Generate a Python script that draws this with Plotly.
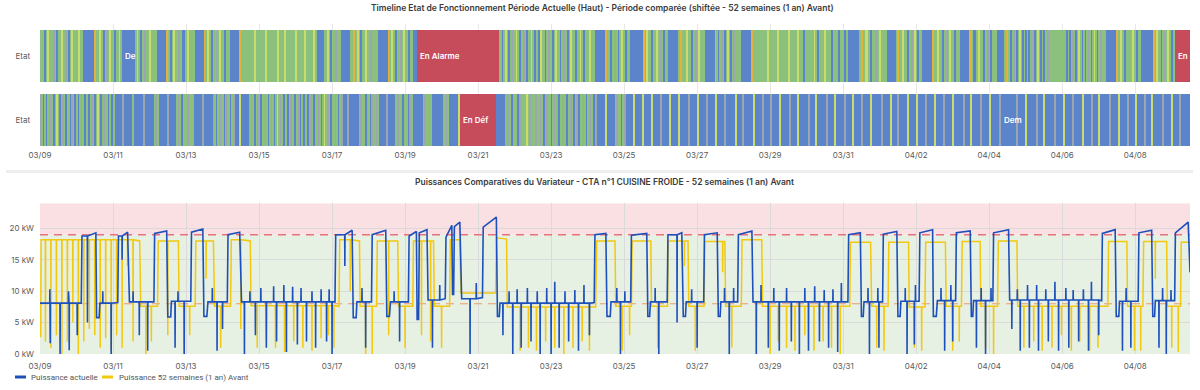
import plotly.graph_objects as go
from datetime import datetime, timedelta

# ---------------- data ----------------
START = datetime(2025, 3, 9)
SPAN_DAYS = 31.5

TITLE_TOP = "Timeline Etat de Fonctionnement Période Actuelle (Haut) - Période comparée (shiftée - 52 semaines (1 an) Avant)"
TITLE_BOTTOM = "Puissances Comparatives du Variateur - CTA n°1 CUISINE FROIDE - 52 semaines (1 an) Avant"
ROW_LABELS = ["Etat", "Etat"]
SERIES_NAMES = ["Puissance actuelle", "Puissance 52 semaines (1 an) Avant"]
Y_TICKS = [0, 5, 10, 15, 20]
THRESHOLD_LOW = 8
THRESHOLD_HIGH = 19
Y_MAX = 24

STATE_COLORS = {
    "D": "#5B84CB",  # Dem
    "A": "#8BC17D",
    "O": "#E4B23C",
    "Y": "#C9DC6E",
    "G": "#9CA6B0",
    "R": "#C64B5B",
}

# state per hour, one string per day (03/09 ... 04/09 12:00)
TOP_STATES_HOURLY = [
    "AAADAYAAAGADAAYAAGADAYAA",  # 03/09
    "AYAADDDDDDDDOAAYAADAGAYA",  # 03/10
    "ADAAYADDDDDDDDDAYADAAGAA",  # 03/11
    "YAAAADDDDDDOAADAYAAGAADA",  # 03/12
    "AYAAAADDDDDDOAYAADAAGAYA",  # 03/13
    "ADAAADDDDDDOAAAAAAAAAYAA",  # 03/14
    "AAAAYAAAAAAAYAAAAYAAAAAA",  # 03/15
    "YAAAAAYAAAAAYADDDDDAAYAD",  # 03/16
    "AAGAAADDDDDDAAOAAYADAAYA",  # 03/17
    "AGAAAADDDDDDDOAYAADAAGAY",  # 03/18
    "AADAADDDRRRRRRRRRRRRRRRR",  # 03/19
    "RRRRRRRRRRRRRRRRRRRRRRRR",  # 03/20
    "RRRRRRRRRRRRRRAADAYADAGA",  # 03/21
    "AYADAAGADAAYADAADYAADAGA",  # 03/22
    "ADAYAADAGAADAYAADAAYADAA",  # 03/23
    "AYAAADDDDDDDOAADAAGADAYA",  # 03/24
    "ADAADDDDDDDDDOAYAADAAYAA",  # 03/25
    "GADAADDDDDDDAOAAAYAADAAG",  # 03/26
    "AYAAADDDDDDDOADAGADAYADA",  # 03/27
    "GAAAADDDDDDDOAAAAAAAAAYA",  # 03/28
    "AAAAAYAAAAAAYAAAAAYAAADA",  # 03/29
    "AAAAAYADAAAAYAAADAAAADAA",  # 03/30
    "ADADDDDDDDDAOAAYAADAAGAA",  # 03/31
    "YAAAADDDDDDAOAAYAADAAGAY",  # 04/01
    "ADAADDDDDDDOAAYAADAAGAYA",  # 04/02
    "ADAAADDDDDDOOADAAYAADAAG",  # 04/03
    "ADAAADDDDDAOOADAGADAYADA",  # 04/04
    "DADAGADAYADADAGAAAAAAAAA",  # 04/05
    "AAADADAGADAYADADAGADAYAD",  # 04/06
    "AGAAADDDDDDDOAYAADAAGAYA",  # 04/07
    "ADAADDDDDDDDOAYAADAGAYAA",  # 04/08
    "DARRRRRRRRRR",              # 04/09
]

BOTTOM_STATES_HOURLY = [
    "GADADAGAADAYADAGADAADGAD",  # 03/09
    "ADAGADAADAGADAYADAGAADAD",  # 03/10
    "ADDDDDGDDDDDDADDDDDDGDDD",  # 03/11
    "DDDAGADDDDDDGDDDDDAGADAA",  # 03/12
    "AGAAADDDDDDGDDDDDDGADAGA",  # 03/13
    "ADGAADAGDDDYDDDDDDAGADAG",  # 03/14
    "ADAAGADAGADAYAGADAADAGAD",  # 03/15
    "AAGDADAADAGADAAGADAYAGAD",  # 03/16
    "AAGADAGDDDGDDDDDDDAGAADA",  # 03/17
    "ADGAAGADDDDDGDDDDDAGAADA",  # 03/18
    "AADGADDDDDDDAGAAGADDDDDD",  # 03/19
    "DAAGADDDDDDYRRRRRRRRRRRR",  # 03/20
    "RRRRRRRRRRRRDDDDDDAGAADA",  # 03/21
    "AADGAAAAYAGAAAGAAGADAGAA",  # 03/22
    "DAGAGDAAGADAAGADAGDAAGAD",  # 03/23
    "AGAADGDDDDDDYDDDDDAGAADA",  # 03/24
    "GDDDDDYDDDDDYDDDDDYDDDDD",  # 03/25
    "GDDDDDYDDDDDYDDDDDGDDDDD",  # 03/26
    "YDDDDDGDDDDDYDDDDDGDDDDD",  # 03/27
    "DYDDDDGDDDDDDYDDDDDGDDDD",  # 03/28
    "GDDDDDYDDDDDDGDDDDYDDDDD",  # 03/29
    "DGDDDDYDDDDDDGDDDDYDDDDD",  # 03/30
    "DGDDDDYDDDDDGDDDDDYDDDDD",  # 03/31
    "DGDDDDDYDDDDGDDDDDYDDDDD",  # 04/01
    "YDDDDDGDDDDDYDDDDDGDDDDD",  # 04/02
    "YDDDDDDGDDDDYDDDDDGDDDDD",  # 04/03
    "YDDDDDDGDDDDDDDDDDGDDDDD",  # 04/04
    "YDDDDDDGDDDDYDDDDDDGDDDD",  # 04/05
    "DYDDDDDGDDDDDYDDDDDGDDDD",  # 04/06
    "YDDDDDDGDDDDDYDDDDDGDDDD",  # 04/07
    "YDDDDDGDDDDYDDDDDDGDDDDD",  # 04/08
    "YDDDDGDDDDDD",              # 04/09
]

# (row, time inside the state, text shown in the box)
STATE_LABELS = [
    (1, "2025-03-11 10:00", "De"),
    (1, "2025-03-20 12:00", "En Alarme"),
    (1, "2025-04-09 06:00", "En"),
    (0, "2025-03-21 00:00", "En Déf"),
    (0, "2025-04-04 12:00", "Dem"),
]

# power series: segments (day_start, day_end, kW_start, kW_end), days since 03/09 00:00
CURRENT_SEGMENTS = [
    (0.00, 1.13, 8.1, 8.1), (1.15, 1.53, 18.8, 19.3), (1.55, 1.62, 5.8, 5.8),
    (1.64, 2.13, 8.1, 8.2), (2.15, 2.40, 18.8, 19.4), (2.45, 3.12, 8.3, 8.3),
    (3.14, 3.47, 19.2, 19.6), (3.50, 3.58, 5.9, 5.9), (3.60, 4.13, 8.4, 8.4),
    (4.15, 4.46, 19.4, 19.9), (4.49, 4.57, 6.0, 6.0), (4.60, 5.13, 8.3, 8.3),
    (5.15, 5.47, 19.0, 19.4), (5.52, 8.08, 8.3, 8.3), (8.10, 8.55, 19.0, 19.7),
    (8.58, 8.66, 5.8, 5.8), (8.68, 9.08, 8.3, 8.3), (9.10, 9.47, 19.0, 19.7),
    (9.50, 9.57, 6.0, 6.0), (9.60, 10.09, 8.3, 8.3), (10.11, 10.31, 18.8, 19.5),
    (10.33, 10.37, 5.5, 5.5), (10.39, 10.60, 19.3, 19.8), (10.63, 11.10, 8.6, 8.8),
    (11.12, 11.28, 18.6, 20.5), (11.30, 11.33, 9.5, 9.5), (11.35, 11.50, 20.3, 21.0),
    (11.55, 12.12, 8.8, 9.0), (12.14, 12.50, 20.2, 21.8), (12.53, 12.58, 6.0, 6.0),
    (12.60, 15.18, 8.1, 8.2), (15.20, 15.50, 19.0, 19.2), (15.53, 15.62, 6.0, 6.0),
    (15.64, 16.18, 8.3, 8.3), (16.20, 16.62, 18.9, 19.2), (16.65, 16.70, 6.0, 6.0),
    (16.72, 17.18, 8.3, 8.3), (17.20, 17.58, 19.0, 19.3), (17.62, 17.68, 6.0, 6.0),
    (17.70, 18.18, 8.3, 8.3), (18.20, 18.55, 19.0, 19.3), (18.58, 18.63, 6.0, 6.0),
    (18.65, 19.11, 8.3, 8.3), (19.13, 19.50, 19.0, 19.6), (19.53, 22.13, 8.3, 8.3),
    (22.15, 22.47, 19.0, 19.3), (22.50, 22.55, 6.0, 6.0), (22.57, 23.08, 8.3, 8.3),
    (23.10, 23.47, 19.1, 19.5), (23.50, 23.56, 6.0, 6.0), (23.58, 24.08, 8.4, 8.4),
    (24.10, 24.45, 19.3, 19.8), (24.47, 24.55, 6.0, 6.0), (24.58, 25.08, 8.5, 8.5),
    (25.10, 25.48, 19.3, 19.6), (25.51, 25.55, 6.0, 6.0), (25.57, 26.10, 8.5, 8.5),
    (26.12, 26.53, 19.3, 19.8), (26.56, 29.08, 8.6, 8.5), (29.10, 29.45, 19.2, 19.8),
    (29.48, 29.55, 6.0, 6.0), (29.57, 30.08, 8.4, 8.4), (30.10, 30.45, 19.3, 19.7),
    (30.48, 30.53, 6.0, 6.0), (30.55, 31.08, 8.5, 8.5), (31.10, 31.45, 19.3, 21.0),
    (31.49, 31.50, 13.0, 13.0),
]
CURRENT_SPIKES = [
    (0.27, 10.3), (0.28, 1.7), (0.55, 0.0), (0.78, 10.0), (0.80, 0.6), (1.02, 3.0),
    (1.30, 5.0), (1.72, 10.0), (1.95, 0.0), (2.25, 15.0), (2.55, 10.0), (2.72, 3.0),
    (2.95, 0.5), (3.70, 1.0), (3.78, 10.0), (3.95, 0.0), (4.72, 10.5), (4.85, 0.5),
    (5.00, 4.0), (5.60, 0.0), (5.75, 10.0), (5.90, 3.0), (6.05, 10.5), (6.20, 1.0),
    (6.40, 10.8), (6.48, 2.0), (6.68, 11.0), (6.75, 0.3), (6.92, 10.7), (7.05, 1.5),
    (7.15, 10.5), (7.30, 2.0), (7.45, 10.0), (7.55, 1.0), (7.70, 10.3), (7.85, 2.0),
    (7.92, 10.3), (8.00, 0.0), (8.35, 14.0), (8.82, 10.5), (8.92, 1.0), (9.70, 10.0),
    (9.85, 2.0), (10.75, 1.0), (10.95, 11.0), (11.78, 0.0), (11.95, 11.3), (12.68, 3.0),
    (12.85, 10.0), (12.95, 0.0), (13.07, 10.3), (13.18, 1.0), (13.35, 10.5), (13.45, 2.0),
    (13.62, 10.0), (13.70, 0.0), (13.88, 10.5), (14.00, 0.0), (14.10, 11.5), (14.22, 1.0),
    (14.38, 10.0), (14.48, 2.0), (14.65, 10.2), (14.75, 0.5), (14.90, 11.0), (15.05, 3.0),
    (15.80, 10.5), (15.90, 0.0), (16.02, 10.0), (16.85, 10.5), (16.95, 0.0), (17.45, 5.0),
    (17.85, 10.3), (18.00, 1.0), (18.75, 10.5), (18.88, 0.0), (19.00, 10.5), (19.62, 0.0),
    (19.75, 11.0), (19.95, 1.0), (20.10, 10.5), (20.25, 0.5), (20.45, 10.5), (20.58, 2.0),
    (20.80, 0.0), (20.95, 10.5), (21.05, 0.5), (21.22, 10.8), (21.35, 2.0), (21.48, 10.2),
    (21.60, 1.0), (21.72, 10.3), (21.85, 0.3), (21.95, 11.3), (22.68, 10.5), (22.72, 0.0),
    (22.95, 10.5), (22.98, 1.0), (23.70, 10.5), (23.75, 0.0), (23.95, 1.5), (23.98, 11.0),
    (24.68, 10.5), (24.78, 0.5), (24.95, 11.0), (25.00, 2.0), (25.65, 1.0), (25.78, 10.5),
    (25.90, 0.0), (26.05, 10.5), (26.62, 4.0), (26.77, 10.3), (26.85, 0.5), (27.05, 11.0),
    (27.10, 1.0), (27.30, 11.0), (27.35, 0.5), (27.55, 10.3), (27.62, 2.0), (27.80, 11.5),
    (27.90, 0.5), (28.10, 10.5), (28.18, 1.0), (28.30, 10.2), (28.45, 2.0), (28.58, 10.3),
    (28.72, 0.5), (28.80, 11.5), (29.00, 3.0), (29.65, 0.5), (29.75, 10.5), (29.88, 1.0),
    (30.65, 1.0), (30.75, 10.5), (30.85, 0.0), (30.98, 10.2),
]

PREVIOUS_SEGMENTS = [
    (0.00, 0.02, 2.8, 2.8), (0.03, 2.73, 18.2, 18.0), (2.76, 3.22, 7.6, 7.6),
    (3.24, 3.79, 18.0, 18.0), (3.81, 4.25, 7.6, 7.6), (4.27, 4.75, 18.0, 18.0),
    (4.78, 5.22, 7.6, 7.6), (5.24, 5.76, 18.2, 18.0), (5.78, 8.19, 7.7, 7.6),
    (8.21, 8.75, 18.2, 18.0), (8.77, 9.22, 7.6, 7.6), (9.24, 9.80, 18.0, 18.0),
    (9.82, 10.21, 7.6, 7.6), (10.23, 10.78, 18.0, 18.0), (10.80, 11.22, 7.6, 7.6),
    (11.24, 11.50, 18.2, 18.2), (11.53, 12.48, 9.7, 9.7), (12.50, 12.78, 18.5, 18.3),
    (12.80, 15.22, 7.5, 7.5), (15.25, 15.75, 18.0, 18.0), (15.77, 16.20, 7.6, 7.6),
    (16.22, 16.73, 18.0, 18.0), (16.75, 17.19, 7.6, 7.6), (17.21, 17.75, 18.0, 18.0),
    (17.77, 18.19, 7.6, 7.6), (18.21, 18.76, 17.9, 17.9), (18.78, 19.21, 7.6, 7.6),
    (19.23, 19.77, 18.2, 18.2), (19.79, 22.18, 7.6, 7.6), (22.20, 22.75, 17.8, 17.8),
    (22.78, 23.23, 7.6, 7.6), (23.25, 23.79, 17.8, 17.8), (23.81, 24.24, 7.5, 7.5),
    (24.26, 24.80, 17.8, 17.8), (24.82, 25.24, 7.6, 7.6), (25.26, 25.75, 17.9, 17.9),
    (25.77, 26.23, 7.6, 7.6), (26.25, 26.76, 18.0, 18.0), (26.78, 29.25, 7.6, 7.6),
    (29.27, 29.77, 17.9, 17.9), (29.79, 30.21, 7.6, 7.6), (30.23, 30.86, 17.9, 17.9),
    (30.88, 31.24, 7.6, 7.6), (31.26, 31.50, 17.8, 17.8),
]
PREVIOUS_SPIKES = [
    (0.15, 2.0), (0.30, 1.0), (0.45, 3.0), (0.60, 0.0), (0.75, 2.0), (0.90, 5.0),
    (1.05, 0.0), (1.20, 2.0), (1.35, 4.0), (1.50, 3.0), (1.65, 1.0), (1.80, 2.5),
    (1.95, 0.5), (2.10, 3.0), (2.25, 1.0), (2.40, 14.0), (2.55, 2.0), (2.90, 0.0),
    (3.05, 2.0), (3.50, 3.0), (3.95, 0.0), (4.10, 3.0), (4.55, 12.0), (4.95, 1.0),
    (5.50, 4.0), (5.95, 1.0), (6.20, 2.5), (6.45, 1.0), (6.70, 0.3), (6.95, 2.0),
    (7.20, 1.0), (7.45, 0.5), (7.70, 2.5), (7.90, 3.0), (8.05, 1.0), (8.50, 10.0),
    (8.92, 0.0), (9.10, 0.0), (9.55, 3.0), (10.00, 1.0), (10.45, 3.0), (10.70, 2.0),
    (11.00, 1.0), (12.95, 2.0), (13.15, 0.5), (13.38, 1.0), (13.60, 0.5), (13.85, 2.0),
    (14.10, 1.0), (14.35, 0.0), (14.60, 1.0), (14.85, 2.0), (15.05, 0.5), (15.95, 0.5),
    (16.15, 3.0), (16.92, 1.0), (17.65, 14.0), (17.95, 0.5), (18.70, 13.0), (18.95, 1.0),
    (20.00, 0.0), (20.22, 2.0), (20.45, 1.0), (20.68, 0.5), (20.95, 3.0), (21.20, 0.5),
    (21.45, 2.0), (21.68, 1.0), (21.92, 0.0), (22.92, 1.0), (23.12, 0.5), (23.95, 1.0),
    (24.15, 0.5), (25.00, 0.5), (25.18, 2.0), (25.90, 1.0), (26.12, 0.0), (26.95, 1.0),
    (27.22, 2.0), (27.45, 0.5), (27.72, 1.0), (27.98, 3.0), (28.25, 0.5), (28.48, 2.0),
    (28.75, 0.5), (28.98, 1.0), (29.98, 0.5), (30.15, 0.5), (30.55, 12.0), (31.00, 1.0),
    (31.18, 0.3),
]

# ---------------- helpers ----------------
def state_runs(day_strings):
    s = "".join(day_strings)
    runs, i = [], 0
    while i < len(s):
        j = i
        while j < len(s) and s[j] == s[i]:
            j += 1
        runs.append((i, j - i, s[i]))
        i = j
    return runs


def build_series(segments, spikes):
    pts = []
    for t0, t1, v0, v1 in segments:
        pts.append((t0, v0))
        for ts, vs in spikes:
            if t0 < ts < t1:
                pts += [(ts - 0.004, v0), (ts, vs), (ts + 0.004, v0)]
        pts.append((t1, v1))
    pts.sort(key=lambda p: p[0])
    xs = [START + timedelta(days=t) for t, _ in pts]
    ys = [v for _, v in pts]
    return xs, ys


def day(d):
    return START + timedelta(days=d)

# ---------------- figure ----------------
FONT = "Inter, Roboto, sans-serif"
fig = go.Figure()

ROW_WIDTH = 0.822
rows = [(1, TOP_STATES_HOURLY), (0, BOTTOM_STATES_HOURLY)]
row_runs = {}
for row, hourly in rows:
    runs = state_runs(hourly)
    row_runs[row] = runs
    fig.add_trace(go.Bar(
        orientation="h",
        base=[START + timedelta(hours=h) for h, n, c in runs],
        x=[n * 3600000 for h, n, c in runs],
        y=[row] * len(runs),
        width=ROW_WIDTH,
        marker=dict(color=[STATE_COLORS[c] for h, n, c in runs], line=dict(width=0)),
        xaxis="x", yaxis="y", showlegend=False, hoverinfo="skip",
    ))

annotations = []
for row, hint, text in STATE_LABELS:
    hint_dt = datetime.strptime(hint, "%Y-%m-%d %H:%M")
    hint_h = (hint_dt - START).total_seconds() / 3600
    for h, n, c in row_runs[row]:
        if h <= hint_h < h + n:
            annotations.append(dict(
                x=START + timedelta(hours=h), y=row, xref="x", yref="y",
                text=text, showarrow=False, xanchor="left", yanchor="middle", xshift=1,
                font=dict(family=FONT, size=8, color="white", weight=600)))
            break

# threshold lines (drawn under the series)
for level, color, width in [(THRESHOLD_HIGH, "#E8727C", 1.5), (THRESHOLD_LOW, "#EE9A70", 1.2)]:
    fig.add_trace(go.Scatter(x=[day(0), day(SPAN_DAYS)], y=[level, level], mode="lines",
                             line=dict(color=color, width=width, dash="8px,6px"),
                             xaxis="x2", yaxis="y2", showlegend=False, hoverinfo="skip"))

px_, py_ = build_series(PREVIOUS_SEGMENTS, PREVIOUS_SPIKES)
cx_, cy_ = build_series(CURRENT_SEGMENTS, CURRENT_SPIKES)
fig.add_trace(go.Scatter(x=px_, y=py_, mode="lines", name=SERIES_NAMES[1],
                         line=dict(color="#F2C811", width=1.5),
                         xaxis="x2", yaxis="y2", showlegend=False))
fig.add_trace(go.Scatter(x=cx_, y=cy_, mode="lines", name=SERIES_NAMES[0],
                         line=dict(color="#1D50BA", width=1.6),
                         xaxis="x2", yaxis="y2", showlegend=False))

H = 390.0
W = 1200.0
XDOM = [40 / W, 1190 / W]

shapes = [
    dict(type="rect", xref="x2 domain", x0=0, x1=1, yref="y2", y0=0, y1=THRESHOLD_HIGH,
         fillcolor="#E6F1E3", line=dict(width=0), layer="below"),
    dict(type="rect", xref="x2 domain", x0=0, x1=1, yref="y2", y0=THRESHOLD_HIGH, y1=Y_MAX,
         fillcolor="#FBE0E3", line=dict(width=0), layer="below"),
    # panel separator
    dict(type="rect", xref="paper", yref="paper", x0=6 / W, x1=1193 / W,
         y0=(H - 173) / H, y1=(H - 170) / H, fillcolor="#EEEEEE", line=dict(width=0)),
    # legend swatches
    dict(type="line", xref="paper", yref="paper", x0=15 / W, x1=26 / W,
         y0=(H - 377) / H, y1=(H - 377) / H, line=dict(color="#1D50BA", width=3)),
    dict(type="line", xref="paper", yref="paper", x0=102 / W, x1=113 / W,
         y0=(H - 377) / H, y1=(H - 377) / H, line=dict(color="#F2C811", width=3)),
]

annotations += [
    dict(text=TITLE_TOP, x=603 / W, y=(H - 8) / H, xref="paper", yref="paper",
         showarrow=False, xanchor="center", yanchor="middle",
         font=dict(family=FONT, size=8.5, color="#3a3a3a", weight=600)),
    dict(text=TITLE_BOTTOM, x=604 / W, y=(H - 182) / H, xref="paper", yref="paper",
         showarrow=False, xanchor="center", yanchor="middle",
         font=dict(family=FONT, size=8.5, color="#3a3a3a", weight=600)),
    dict(text=SERIES_NAMES[0], x=29 / W, y=(H - 377) / H, xref="paper", yref="paper",
         showarrow=False, xanchor="left", yanchor="middle",
         font=dict(family="Roboto, sans-serif", size=8, color="#555555")),
    dict(text=SERIES_NAMES[1], x=117 / W, y=(H - 377) / H, xref="paper", yref="paper",
         showarrow=False, xanchor="left", yanchor="middle",
         font=dict(family="Roboto, sans-serif", size=8, color="#555555")),
]

tickfont = dict(family=FONT, size=8, color="#5a5a5a")
xcommon = dict(type="date", range=[day(0), day(SPAN_DAYS)], domain=XDOM,
               tick0=START, dtick=2 * 86400000, tickformat="%m/%d",
               showgrid=True, zeroline=False, showline=False, ticks="",
               tickfont=tickfont, automargin=False)

fig.update_layout(
    width=1200, height=390,
    margin=dict(l=0, r=0, t=0, b=0, autoexpand=False),
    paper_bgcolor="white", plot_bgcolor="white",
    barmode="overlay", bargap=0,
    font=dict(family=FONT),
    xaxis=dict(**xcommon, anchor="y", gridcolor="#E8E8E8", ticklabelstandoff=3),
    yaxis=dict(domain=[(H - 146.3) / H, (H - 24) / H], range=[-0.411, 1.5],
               tickmode="array", tickvals=[0, 1], ticktext=ROW_LABELS,
               showgrid=False, zeroline=False, automargin=False,
               tickfont=tickfont, ticklabelstandoff=9, anchor="x"),
    xaxis2=dict(**xcommon, anchor="y2", gridcolor="#DADADA", ticklabelstandoff=6),
    yaxis2=dict(domain=[(H - 354) / H, (H - 203.3) / H], range=[0, Y_MAX],
                tickmode="array", tickvals=Y_TICKS,
                ticktext=[f"{v} kW" for v in Y_TICKS],
                showgrid=True, gridcolor="#DADADA", automargin=False,
                zeroline=False, tickfont=tickfont, ticklabelstandoff=5, anchor="x2"),
    shapes=shapes,
    annotations=annotations,
    hovermode=False,
)

fig.write_html("out.html", config={"displayModeBar": False},
               post_script="document.body.style.margin='0';")
